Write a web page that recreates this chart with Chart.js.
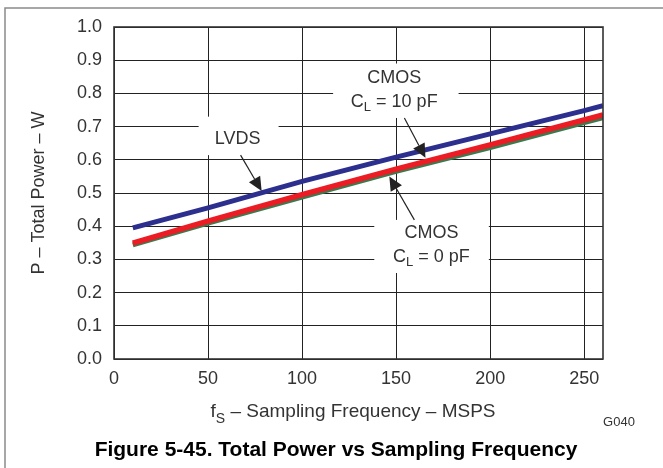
<!DOCTYPE html>
<html>
<head>
<meta charset="utf-8">
<script src="https://cdn.jsdelivr.net/npm/chart.js@4.4.1/dist/chart.umd.min.js"></script>
<style>
  body { margin: 0; background: #fff; }
  canvas { display: block; }
</style>
</head>
<body>
<canvas id="power" width="663" height="468"></canvas>
<script>
// sampling frequency (MSPS) and total power (W)
const frequency = [10, 50, 100, 150, 200, 250, 260];
const lvdsPower = [0.395, 0.455, 0.535, 0.608, 0.678, 0.748, 0.763];
const cmos10Power = [0.349, 0.415, 0.495, 0.572, 0.645, 0.720, 0.735];
const cmos0Power = [0.344, 0.409, 0.488, 0.565, 0.637, 0.712, 0.727];

const xTicks = [0, 50, 100, 150, 200, 250];
const yTicks = [0, 0.1, 0.2, 0.3, 0.4, 0.5, 0.6, 0.7, 0.8, 0.9, 1.0];

const FONT = "'Liberation Sans', Arial, sans-serif";
const TEXT = "#333";

// callouts, placed in data units (MSPS, W)
const callouts = [
  {
    lines: [[{ t: "LVDS" }]],
    box: [45, 0.73, 87.5, 0.614],
    textAt: [65.7, [0.664]],
    tail: [67.3, 0.614],
    tip: [78.5, 0.506],
  },
  {
    lines: [[{ t: "CMOS" }], [{ t: "C" }, { t: "L", sub: true }, { t: " = 10 pF" }]],
    box: [116.5, 0.89, 183.2, 0.726],
    textAt: [149, [0.846, 0.774]],
    tail: [154.4, 0.726],
    tip: [165.6, 0.606],
  },
  {
    lines: [[{ t: "CMOS" }], [{ t: "C" }, { t: "L", sub: true }, { t: " = 0 pF" }]],
    box: [138.4, 0.419, 199.3, 0.259],
    textAt: [168.8, [0.38, 0.307]],
    tail: [159.7, 0.419],
    tip: [146.4, 0.55],
  },
];

function toPoints(values) {
  return frequency.map((f, i) => ({ x: f, y: values[i] }));
}

function drawRich(ctx, parts, cx, cy, size, baseline) {
  const subSize = Math.round(size * 0.72);
  let total = 0;
  parts.forEach((p) => {
    ctx.font = `${p.sub ? subSize : size}px ${FONT}`;
    p.w = ctx.measureText(p.t).width;
    total += p.w;
  });
  let x = cx - total / 2;
  ctx.textAlign = "left";
  ctx.textBaseline = baseline || "middle";
  parts.forEach((p) => {
    ctx.font = `${p.sub ? subSize : size}px ${FONT}`;
    ctx.fillText(p.t, x, p.sub ? cy + size * 0.3 : cy);
    x += p.w;
  });
}

function drawArrow(ctx, x1, y1, x2, y2) {
  const ang = Math.atan2(y2 - y1, x2 - x1);
  const len = 14;
  const half = 6.5;
  const bx = x2 - len * Math.cos(ang);
  const by = y2 - len * Math.sin(ang);
  ctx.strokeStyle = "#222";
  ctx.lineWidth = 1.2;
  ctx.beginPath();
  ctx.moveTo(x1, y1);
  ctx.lineTo(bx, by);
  ctx.stroke();
  ctx.fillStyle = "#222";
  ctx.beginPath();
  ctx.moveTo(x2, y2);
  ctx.lineTo(bx + half * Math.sin(ang), by - half * Math.cos(ang));
  ctx.lineTo(bx - half * Math.sin(ang), by + half * Math.cos(ang));
  ctx.closePath();
  ctx.fill();
}

const figureText = {
  id: "figureText",
  beforeDatasetsDraw(chart) {
    const { ctx, scales: { x, y } } = chart;
    ctx.save();
    ctx.fillStyle = "#fff";
    callouts.forEach((c) => {
      const l = x.getPixelForValue(c.box[0]);
      const t = y.getPixelForValue(c.box[1]);
      const r = x.getPixelForValue(c.box[2]);
      const b = y.getPixelForValue(c.box[3]);
      ctx.fillRect(l, t, r - l, b - t);
    });
    ctx.restore();
  },
  afterDraw(chart) {
    const { ctx, chartArea: a, scales: { x, y } } = chart;
    ctx.save();

    // plot frame
    ctx.strokeStyle = "#333";
    ctx.lineWidth = 1.6;
    ctx.strokeRect(a.left, a.top, a.right - a.left, a.bottom - a.top);

    // page border
    ctx.strokeStyle = "#8a8a8a";
    ctx.lineWidth = 1.5;
    ctx.beginPath();
    ctx.moveTo(5, 468);
    ctx.lineTo(5, 8);
    ctx.lineTo(663, 8);
    ctx.stroke();

    // callouts
    callouts.forEach((c) => {
      c.lines.forEach((parts, i) => {
        ctx.fillStyle = TEXT;
        drawRich(ctx, parts, x.getPixelForValue(c.textAt[0]), y.getPixelForValue(c.textAt[1][i]), 18);
      });
      drawArrow(
        ctx,
        x.getPixelForValue(c.tail[0]), y.getPixelForValue(c.tail[1]),
        x.getPixelForValue(c.tip[0]), y.getPixelForValue(c.tip[1])
      );
    });

    // axis titles
    ctx.fillStyle = TEXT;
    drawRich(ctx, [{ t: "f" }, { t: "S", sub: true }, { t: " \u2013 Sampling Frequency \u2013 MSPS" }], 353, 417, 19, "alphabetic");

    ctx.save();
    ctx.translate(39, (a.top + a.bottom) / 2);
    ctx.rotate(-Math.PI / 2);
    drawRich(ctx, [{ t: "P \u2013 Total Power \u2013 W" }], 0, 0, 18);
    ctx.restore();

    ctx.font = `13px ${FONT}`;
    ctx.textAlign = "center";
    ctx.textBaseline = "alphabetic";
    ctx.fillText("G040", 619, 426);

    ctx.fillStyle = "#000";
    ctx.font = `bold 21px ${FONT}`;
    ctx.textAlign = "center";
    ctx.fillText("Figure 5-45. Total Power vs Sampling Frequency", 336, 456);

    ctx.restore();
  },
};

new Chart(document.getElementById("power"), {
  type: "line",
  data: {
    datasets: [
      {
        label: "LVDS",
        data: toPoints(lvdsPower),
        borderColor: "#2c2f8e",
        borderWidth: 5,
      },
      {
        label: "CMOS CL = 10 pF",
        data: toPoints(cmos10Power),
        borderColor: "#ec1c24",
        borderWidth: 5.5,
      },
      {
        label: "CMOS CL = 0 pF",
        data: toPoints(cmos0Power),
        borderColor: "#3b7a4e",
        borderWidth: 5,
      },
    ],
  },
  options: {
    responsive: false,
    animation: false,
    devicePixelRatio: 1,
    layout: { padding: { left: 0, top: 27, right: 60, bottom: 79 } },
    elements: {
      point: { radius: 0 },
      line: { tension: 0, borderCapStyle: "butt" },
    },
    plugins: {
      legend: { display: false },
      tooltip: { enabled: false },
    },
    scales: {
      x: {
        type: "linear",
        min: 0,
        max: 260,
        afterFit: (s) => { s.height = 30; },
        afterBuildTicks: (s) => { s.ticks = xTicks.map((v) => ({ value: v })); },
        grid: { color: "#222", lineWidth: 1, drawTicks: false },
        border: { display: false },
        ticks: { padding: 9, color: TEXT, font: { family: FONT, size: 18 } },
      },
      y: {
        min: 0,
        max: 1,
        afterFit: (s) => { s.width = 114; },
        afterBuildTicks: (s) => { s.ticks = yTicks.map((v) => ({ value: v })); },
        grid: { color: "#222", lineWidth: 1, drawTicks: false },
        border: { display: false },
        ticks: {
          padding: 12,
          color: TEXT,
          font: { family: FONT, size: 18 },
          callback: (v) => Number(v).toFixed(1),
        },
      },
    },
  },
  plugins: [figureText],
});
</script>
</body>
</html>
